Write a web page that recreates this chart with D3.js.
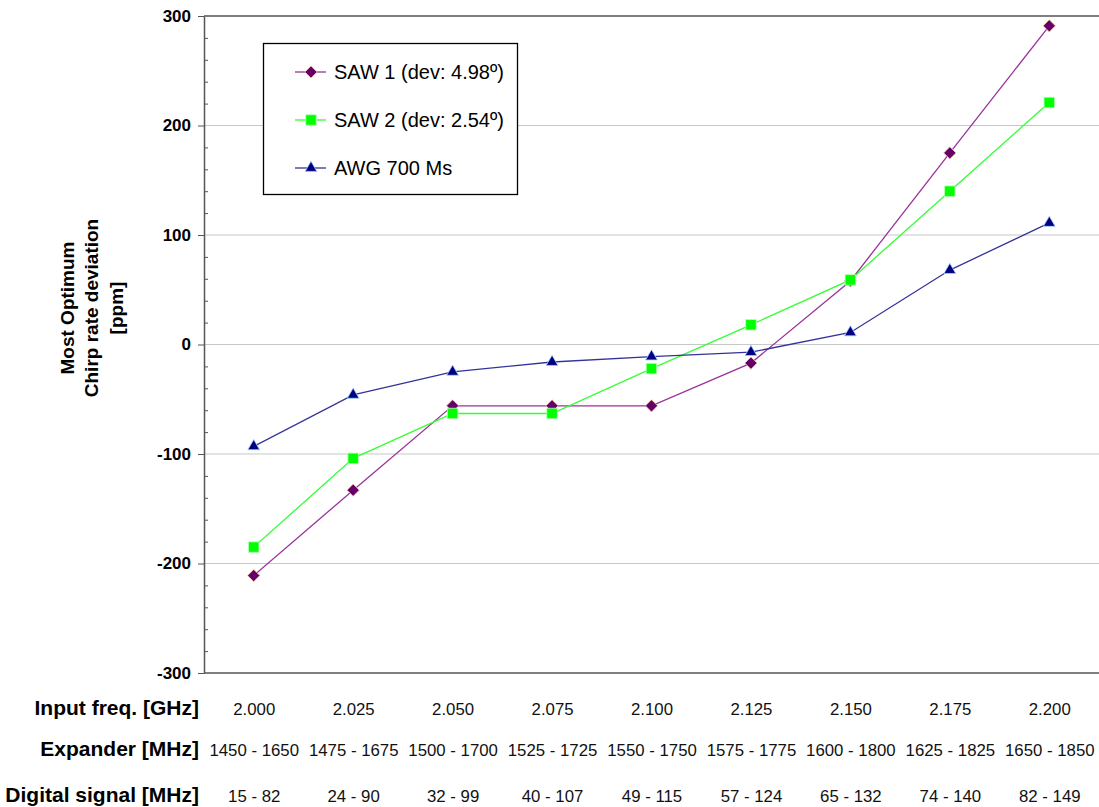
<!DOCTYPE html>
<html>
<head>
<meta charset="utf-8">
<script src="https://cdn.jsdelivr.net/npm/d3@7"></script>
<style>
  html, body { margin: 0; padding: 0; background: #fff; }
  svg { display: block; font-family: "Liberation Sans", Arial, sans-serif; }
</style>
</head>
<body>
<svg id="chart" width="1099" height="807"></svg>
<script>
// Input frequency categories and the two extra rows printed under them
const inputFreq = ["2.000", "2.025", "2.050", "2.075", "2.100", "2.125", "2.150", "2.175", "2.200"];
const expanderBand = ["1450 - 1650", "1475 - 1675", "1500 - 1700", "1525 - 1725", "1550 - 1750",
                      "1575 - 1775", "1600 - 1800", "1625 - 1825", "1650 - 1850"];
const digitalBand = ["15 - 82", "24 - 90", "32 - 99", "40 - 107", "49 - 115",
                     "57 - 124", "65 - 132", "74 - 140", "82 - 149"];

// Chirp rate deviation [ppm] per series
const saw1 = [-211, -133, -56, -56, -56, -17, 58, 175, 291];
const saw2 = [-185, -104, -63, -63, -22, 18, 59, 140, 221];
const awg  = [-93, -46, -25, -16, -11, -7, 11, 68, 111];

const seriesNames = ["SAW 1 (dev: 4.98º)", "SAW 2 (dev: 2.54º)", "AWG 700 Ms"];
const yMajorTicks = [-300, -200, -100, 0, 100, 200, 300];
const rowTitles = ["Input freq. [GHz]", "Expander [MHz]", "Digital signal [MHz]"];

const series = [
  { name: seriesNames[0], values: saw1, line: "#993399", fill: "#660066", edge: "#f7c9a8", shape: d3.symbolDiamond2, size: 95 },
  { name: seriesNames[1], values: saw2, line: "#33ff33", fill: "#00ff00", edge: "#b8ffb8", shape: d3.symbolSquare, size: 110 },
  { name: seriesNames[2], values: awg,  line: "#333399", fill: "#000080", edge: "#9fd4ff", shape: d3.symbolTriangle, size: 60 }
];

const svg = d3.select("#chart");
const plotLeft = 204, plotRight = 1099, plotTop = 16, plotBottom = 673;

const x = d3.scalePoint().domain(inputFreq).range([plotLeft, plotRight]).padding(0.5);
const y = d3.scaleLinear().domain([-300, 300]).range([plotBottom, plotTop]);

// horizontal gridlines
svg.append("g")
  .selectAll("line")
  .data(yMajorTicks.filter(v => v > -300 && v < 300))
  .join("line")
  .attr("x1", plotLeft + 1).attr("x2", plotRight)
  .attr("y1", d => y(d)).attr("y2", d => y(d))
  .attr("stroke", "#c8c8c8").attr("stroke-width", 1.2);

// plot area top edge
svg.append("line")
  .attr("x1", plotLeft).attr("x2", plotRight)
  .attr("y1", y(300)).attr("y2", y(300))
  .attr("stroke", "#555").attr("stroke-width", 1.5);

// minor ticks on the value axis (pointing inward)
const minorTicks = d3.range(-300, 301, 20).filter(v => v % 100 !== 0);
svg.append("g")
  .attr("transform", `translate(${plotLeft},0)`)
  .call(d3.axisRight(y).tickValues(minorTicks).tickSize(4).tickFormat(""))
  .call(g => g.select(".domain").remove())
  .call(g => g.selectAll("line").attr("stroke", "#555"));

// value axis with major ticks and labels
svg.append("g")
  .attr("transform", `translate(${plotLeft},0)`)
  .call(d3.axisLeft(y).tickValues(yMajorTicks).tickSize(6).tickPadding(7).tickSizeOuter(0)
    .tickFormat(d => String(d)))
  .call(g => g.select(".domain").attr("stroke", "#555").attr("stroke-width", 1.5))
  .call(g => g.selectAll("line").attr("stroke", "#555"))
  .call(g => g.selectAll("text")
    .attr("font-size", 17).attr("font-weight", "bold").attr("fill", "#000")
    .attr("font-family", "Liberation Sans, Arial, sans-serif"));

// category axis line
svg.append("line")
  .attr("x1", plotLeft).attr("x2", plotRight)
  .attr("y1", y(-300)).attr("y2", y(-300))
  .attr("stroke", "#555").attr("stroke-width", 1.5);

// three label rows under the category axis
const rows = [
  { labels: inputFreq, baseline: 715 },
  { labels: expanderBand, baseline: 756 },
  { labels: digitalBand, baseline: 802 }
];
rows.forEach((row, i) => {
  const g = svg.append("g").attr("transform", `translate(0,${row.baseline})`);
  g.call(d3.axisBottom(x).tickSize(0).tickPadding(0)
      .tickFormat((d, j) => row.labels[j]))
    .call(s => s.select(".domain").remove())
    .call(s => s.selectAll("text")
      .attr("dy", 0).attr("y", 0)
      .attr("font-size", 16.8).attr("fill", "#111")
      .attr("font-family", "Liberation Sans, Arial, sans-serif"));
  svg.append("text")
    .attr("x", 199).attr("y", row.baseline)
    .attr("text-anchor", "end")
    .attr("font-size", 21).attr("font-weight", "bold")
    .text(rowTitles[i]);
});

// value axis title
const yTitle = svg.append("text")
  .attr("transform", "translate(91,308) rotate(-90)")
  .attr("text-anchor", "middle")
  .attr("font-size", 19).attr("font-weight", "bold");
["Most Optimum", "Chirp rate deviation", "[ppm]"].forEach((t, i) => {
  yTitle.append("tspan").attr("x", 0).attr("y", (i - 1) * 24.5 + 7).text(t);
});

// series lines and markers
const line = d3.line().x((d, i) => x(inputFreq[i])).y(d => y(d));
series.forEach(s => {
  svg.append("path")
    .attr("d", line(s.values))
    .attr("fill", "none").attr("stroke", s.line).attr("stroke-width", 1.3);
});
series.forEach(s => {
  svg.append("g").selectAll("path")
    .data(s.values)
    .join("path")
    .attr("transform", (d, i) => `translate(${x(inputFreq[i])},${y(d)})`)
    .attr("d", d3.symbol().type(s.shape).size(s.size))
    .attr("fill", s.fill).attr("stroke", s.edge).attr("stroke-width", 0.8);
});

// legend
const lg = svg.append("g");
lg.append("rect")
  .attr("x", 263.5).attr("y", 43.5).attr("width", 254).attr("height", 151)
  .attr("fill", "#fff").attr("stroke", "#000").attr("stroke-width", 1.3);
series.forEach((s, i) => {
  const cy = 72 + i * 48;
  lg.append("line").attr("x1", 295).attr("x2", 326).attr("y1", cy).attr("y2", cy)
    .attr("stroke", s.line).attr("stroke-width", 1.3);
  lg.append("path")
    .attr("transform", `translate(311,${cy})`)
    .attr("d", d3.symbol().type(s.shape).size(s.size))
    .attr("fill", s.fill).attr("stroke", s.edge).attr("stroke-width", 0.8);
  lg.append("text").attr("x", 334).attr("y", cy + 7)
    .attr("font-size", 20).attr("fill", "#000").text(s.name);
});
</script>
</body>
</html>
